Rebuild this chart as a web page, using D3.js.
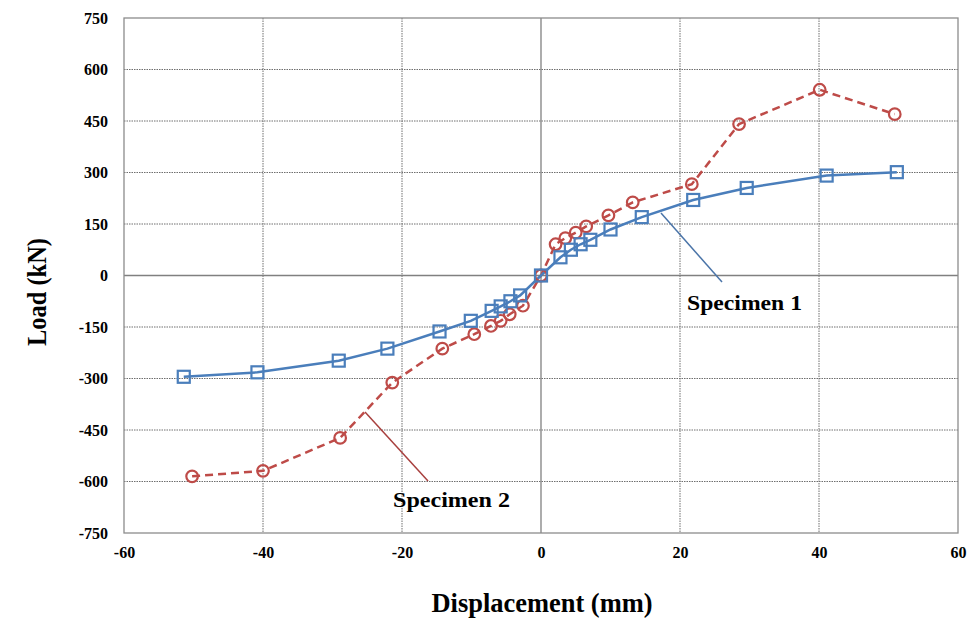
<!DOCTYPE html>
<html><head><meta charset="utf-8">
<script src="https://cdn.jsdelivr.net/npm/d3@7/dist/d3.min.js"></script>
<style>body{margin:0;background:#fff}svg{display:block}</style>
</head><body>
<svg id="c" width="978" height="639"></svg>
<script>
const xTicks = [-60,-40,-20,0,20,40,60];
const yTicks = [750,600,450,300,150,0,-150,-300,-450,-600,-750];
const spec1X = [-51.4,-40.8,-29.1,-22.1,-14.6,-10.1,-7.1,-5.8,-4.4,-3.0,0,2.8,4.3,5.7,7.1,10.0,14.5,21.9,29.6,41.1,51.2];
const spec1Y = [-295,-282,-248,-213,-163,-132,-103,-90,-75,-58,0,53,75,91,104,134,170,220,255,291,301];
const spec2X = [-50.2,-40.0,-28.9,-21.4,-14.2,-9.6,-7.2,-5.8,-4.5,-2.6,0,2.1,3.5,5.0,6.5,9.7,13.2,21.7,28.5,40.1,50.9];
const spec2Y = [-585,-569,-473,-312,-213,-171,-147,-132,-113,-88,0,91,109,125,143,175,213,266,441,541,470];
const labels = ["Specimen 1","Specimen 2"];

const svg = d3.select("#c");
const L=124,R=958,T=18,B=533;
const x = d3.scaleLinear().domain([-60,60]).range([L,R]);
const y = d3.scaleLinear().domain([-750,750]).range([B,T]);
const font = "'Liberation Serif','Times New Roman',serif";

// gridlines
const g = svg.append("g");
g.selectAll("line.h").data(yTicks.filter(d=>d!==0&&Math.abs(d)!==750)).enter().append("line")
 .attr("x1",L).attr("x2",R).attr("y1",d=>y(d)).attr("y2",d=>y(d))
 .attr("stroke","#6e6e6e").attr("stroke-width",1).attr("stroke-dasharray","1.5,1");
g.selectAll("line.v").data(xTicks.filter(d=>d!==0&&Math.abs(d)!==60)).enter().append("line")
 .attr("y1",T).attr("y2",B).attr("x1",d=>x(d)).attr("x2",d=>x(d))
 .attr("stroke","#6e6e6e").attr("stroke-width",1).attr("stroke-dasharray","1.5,1");
// zero axes
svg.append("line").attr("x1",L).attr("x2",R).attr("y1",y(0)).attr("y2",y(0)).attr("stroke","#808080").attr("stroke-width",1.3);
svg.append("line").attr("y1",T).attr("y2",B).attr("x1",x(0)).attr("x2",x(0)).attr("stroke","#808080").attr("stroke-width",1.3);
// border
svg.append("rect").attr("x",L).attr("y",T).attr("width",R-L).attr("height",B-T)
 .attr("fill","none").attr("stroke","#8c8c8c").attr("stroke-width",1.3);

// axes tick labels via d3 axes
const fmt = d=>String(d);
const yAxis = d3.axisLeft(y).tickValues(yTicks).tickFormat(fmt).tickSize(0).tickPadding(16);
const ya = svg.append("g").attr("transform",`translate(${L},0)`).call(yAxis);
ya.select(".domain").remove();
ya.selectAll("text").attr("font-family",font).attr("font-weight","bold").attr("font-size",16).attr("fill","#000");
const xAxis = d3.axisBottom(x).tickValues(xTicks).tickFormat(fmt).tickSize(0).tickPadding(14);
const xa = svg.append("g").attr("transform",`translate(0,${B})`).call(xAxis);
xa.select(".domain").remove();
xa.selectAll("text").attr("font-family",font).attr("font-weight","bold").attr("font-size",16).attr("fill","#000");

// axis titles
svg.append("text").attr("x",542).attr("y",612).attr("text-anchor","middle")
 .attr("font-family",font).attr("font-weight","bold").attr("font-size",27)
 .attr("textLength",221).attr("lengthAdjust","spacingAndGlyphs").text("Displacement (mm)");
svg.append("text").attr("transform","translate(46,292) rotate(-90)").attr("text-anchor","middle")
 .attr("font-family",font).attr("font-weight","bold").attr("font-size",27)
 .attr("textLength",108).attr("lengthAdjust","spacingAndGlyphs").text("Load (kN)");

const line = d3.line().x(d=>x(d[0])).y(d=>y(d[1]));
const d1 = spec1X.map((v,i)=>[v,spec1Y[i]]);
const d2 = spec2X.map((v,i)=>[v,spec2Y[i]]);
const blue="#4a7ebb", red="#be4b48";

// leader lines
svg.append("line").attr("x1",661).attr("y1",213).attr("x2",722).attr("y2",282).attr("stroke","#4a74a8").attr("stroke-width",1.5);
svg.append("line").attr("x1",365).attr("y1",412).attr("x2",428).attr("y2",481).attr("stroke","#a8403e").attr("stroke-width",1.5);

svg.append("path").datum(d2).attr("d",line).attr("fill","none").attr("stroke",red).attr("stroke-width",2.5).attr("stroke-dasharray","8,5");
svg.append("path").datum(d1).attr("d",line).attr("fill","none").attr("stroke",blue).attr("stroke-width",2.5);

svg.selectAll("circle.s2").data(d2).enter().append("circle")
 .attr("cx",d=>x(d[0])).attr("cy",d=>y(d[1])).attr("r",5.8)
 .attr("fill","none").attr("stroke",red).attr("stroke-width",2.2);
svg.selectAll("rect.s1").data(d1).enter().append("rect")
 .attr("x",d=>x(d[0])-6).attr("y",d=>y(d[1])-6).attr("width",12).attr("height",12)
 .attr("fill","none").attr("stroke",blue).attr("stroke-width",2.2);

svg.append("text").attr("x",687).attr("y",310).attr("font-family",font).attr("font-weight","bold").attr("font-size",22)
 .attr("textLength",115).attr("lengthAdjust","spacingAndGlyphs").text(labels[0]);
svg.append("text").attr("x",393).attr("y",507).attr("font-family",font).attr("font-weight","bold").attr("font-size",22)
 .attr("textLength",117).attr("lengthAdjust","spacingAndGlyphs").text(labels[1]);
</script>
</body></html>
